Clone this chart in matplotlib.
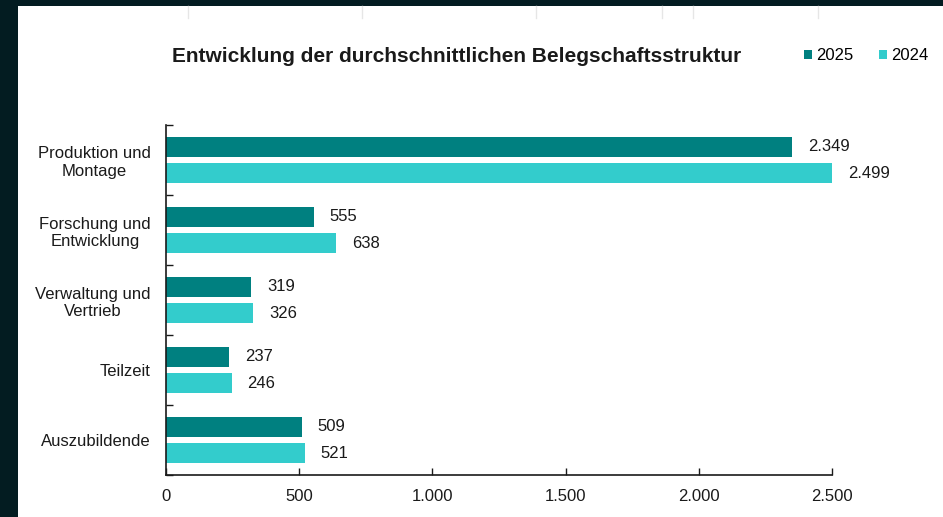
import matplotlib
matplotlib.use("Agg")
import matplotlib.pyplot as plt
from matplotlib.lines import Line2D
from matplotlib.patches import Rectangle
from matplotlib.ticker import FuncFormatter, FixedLocator
import numpy as np

categories = ["Produktion und\nMontage", "Forschung und\nEntwicklung", "Verwaltung und\nVertrieb", "Teilzeit", "Auszubildende"]
values_2025 = [2349, 555, 319, 237, 509]
values_2024 = [2499, 638, 326, 246, 521]
series_labels = ["2025", "2024"]
x_ticks = [0, 500, 1000, 1500, 2000, 2500]
title = "Entwicklung der durchschnittlichen Belegschaftsstruktur"

c2025 = "#008080"
c2024 = "#33CCCC"
dark = "#031c21"

plt.rcParams['font.family'] = ['Liberation Sans', 'DejaVu Sans']

def de_fmt(v):
    return f"{int(round(v)):,}".replace(",", ".")

fig = plt.figure(figsize=(9.43, 5.17), dpi=100)
fig.patch.set_facecolor(dark)
# white panel
fig.patches.append(Rectangle((18/943, 0), 1 - 18/943, 1 - 6/517, transform=fig.transFigure,
                             facecolor="white", edgecolor="none", zorder=-10))
# faint top lines
for xp in [188, 362, 536, 662, 693, 818]:
    fig.add_artist(Line2D([xp/943, xp/943], [1 - 6/517, 1 - 18/517], transform=fig.transFigure,
                          color="#e6e6e6", lw=1, zorder=-5))

ax = fig.add_axes([166/943, (517-475)/517, (832-166)/943, (475-125)/517])
ax.set_facecolor("none")

y = np.arange(len(categories))
h = 0.286
off = 0.186
b1 = ax.barh(y - off, values_2025, height=h, color=c2025, label=series_labels[0])
b2 = ax.barh(y + off, values_2024, height=h, color=c2024, label=series_labels[1])

for bars, vals in [(b1, values_2025), (b2, values_2024)]:
    for bar, v in zip(bars, vals):
        ax.annotate(de_fmt(v), (bar.get_width(), bar.get_y() + bar.get_height()/2),
                    xytext=(11.5, 0), textcoords="offset points", va="center", ha="left",
                    fontsize=12, color="#1a1a1a")

ax.set_xlim(0, 2500)
ax.set_ylim(len(categories) - 0.5, -0.5)
ax.set_xticks(x_ticks)
ax.xaxis.set_major_formatter(FuncFormatter(lambda v, p: de_fmt(v)))
ax.set_yticks(y)
ax.set_yticklabels(categories, fontsize=12, color="#1a1a1a", ha="right", multialignment="center")
ax.yaxis.set_minor_locator(FixedLocator(np.arange(-0.5, len(categories), 1.0)))
ax.tick_params(axis="y", which="major", length=0, pad=11)
ax.tick_params(axis="y", which="minor", length=5, direction="in", width=1, color="#1a1a1a")
ax.tick_params(axis="x", which="major", length=5, direction="in", width=1, color="#1a1a1a",
               labelsize=12, labelcolor="#1a1a1a", pad=10)
for s in ["top", "right"]:
    ax.spines[s].set_visible(False)
for s in ["left", "bottom"]:
    ax.spines[s].set_color("#1a1a1a")
    ax.spines[s].set_linewidth(1.2)

fig.text(457/943, 1 - 57/517, title, ha="center", va="center", fontsize=15,
         fontweight="bold", color="#1a1a1a")

fig.legend(handles=[b1, b2], labels=series_labels, loc="center", bbox_to_anchor=(866/943, 1 - 56/517),
           ncol=2, frameon=False, fontsize=12, handlelength=0.5, handleheight=0.5,
           handletextpad=0.25, columnspacing=1.5, borderaxespad=0, borderpad=0)

fig.savefig("out.png", dpi=100, facecolor=fig.get_facecolor())
